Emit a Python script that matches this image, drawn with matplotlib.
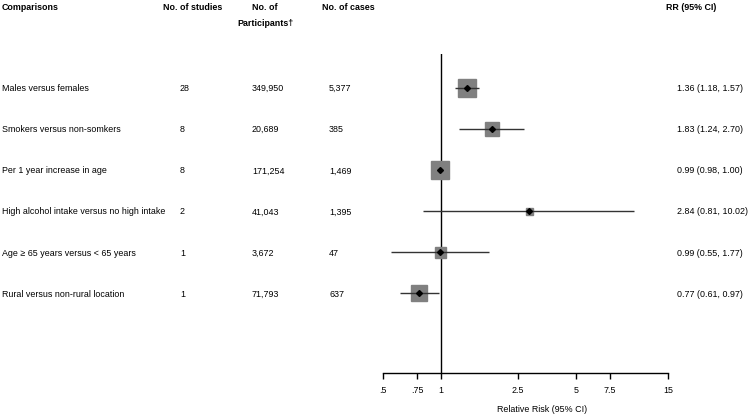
import matplotlib
matplotlib.use("Agg")
import matplotlib.pyplot as plt
from matplotlib.transforms import blended_transform_factory

plt.rcParams['font.family'] = ['Liberation Sans', 'DejaVu Sans']

comparisons = ["Males versus females", "Smokers versus non-somkers", "Per 1 year increase in age",
               "High alcohol intake versus no high intake", "Age \u2265 65 years versus < 65 years",
               "Rural versus non-rural location"]
n_studies = ["28", "8", "8", "2", "1", "1"]
n_participants = ["349,950", "20,689", "171,254", "41,043", "3,672", "71,793"]
n_cases = ["5,377", "385", "1,469", "1,395", "47", "637"]
rr = [1.36, 1.83, 0.99, 2.84, 0.99, 0.77]
lo = [1.18, 1.24, 0.98, 0.81, 0.55, 0.61]
hi = [1.57, 2.70, 1.00, 10.02, 1.77, 0.97]
rr_labels = ["1.36 (1.18, 1.57)", "1.83 (1.24, 2.70)", "0.99 (0.98, 1.00)",
             "2.84 (0.81, 10.02)", "0.99 (0.55, 1.77)", "0.77 (0.61, 0.97)"]
weights = [18, 14, 18, 7, 11, 16]
xticks = [0.5, 0.75, 1, 2.5, 5, 7.5, 15]
xticklabels = [".5", ".75", "1", "2.5", "5", "7.5", "15"]

W, H = 748, 415
fig = plt.figure(figsize=(W / 100, H / 100), dpi=100)

# axes in pixel coordinates
L, R, T, B = 383, 668, 54, 373
ax = fig.add_axes([L / W, 1 - B / H, (R - L) / W, (B - T) / H])
ax.set_xscale('log')
ax.set_xlim(0.5, 15)
row0, step = 87.7, 41.1
ax.set_ylim((B - row0) / step, (T - row0) / step)

fs = 6.4
for s in ['top', 'right', 'left']:
    ax.spines[s].set_visible(False)
ax.spines['bottom'].set_linewidth(1.0)
ax.set_yticks([])
ax.set_xticks(xticks)
ax.set_xticklabels(xticklabels, fontsize=fs)
ax.minorticks_off()
ax.tick_params(axis='x', direction='out', length=4, width=1, pad=5)
ax.axvline(1, color='black', lw=1.0, zorder=1)

for i in range(len(rr)):
    ax.plot([rr[i]], [i], marker='s', ms=weights[i] * 0.72, color='#808080', mec='#808080', zorder=2, ls='none')
    ax.plot([lo[i], hi[i]], [i, i], color='#333333', lw=1.0, zorder=3, solid_capstyle='butt')
    ax.plot([rr[i]], [i], marker='D', ms=3, color='black', zorder=4, ls='none')

tr = blended_transform_factory(fig.transFigure, ax.transData)
va = 'center_baseline'
for i in range(len(rr)):
    fig.text(2 / W, i, comparisons[i], transform=tr, fontsize=fs, va=va, ha='left')
    fig.text(180 / W, i, n_studies[i], transform=tr, fontsize=fs, va=va, ha='left')
    fig.text(252 / W, i, n_participants[i], transform=tr, fontsize=fs, va=va, ha='left')
    fig.text(329 / W, i, n_cases[i], transform=tr, fontsize=fs, va=va, ha='left')
    fig.text(677 / W, i, rr_labels[i], transform=tr, fontsize=fs, va=va, ha='left')

hy = 1 - 7 / H
fig.text(2 / W, hy, "Comparisons", fontsize=fs, fontweight='bold', va=va, ha='left')
fig.text(163 / W, hy, "No. of studies", fontsize=fs, fontweight='bold', va=va, ha='left')
fig.text(265 / W, hy, "No. of", fontsize=fs, fontweight='bold', va=va, ha='center')
fig.text(265 / W, 1 - 22 / H, "Participants\u2020", fontsize=fs, fontweight='bold', va=va, ha='center')
fig.text(322 / W, hy, "No. of cases", fontsize=fs, fontweight='bold', va=va, ha='left')
fig.text(666 / W, hy, "RR (95% CI)", fontsize=fs, fontweight='bold', va=va, ha='left')

fig.text(542 / W, 1 - 408 / H, "Relative Risk (95% CI)", fontsize=fs, va=va, ha='center')

fig.savefig("out.png", dpi=100)
